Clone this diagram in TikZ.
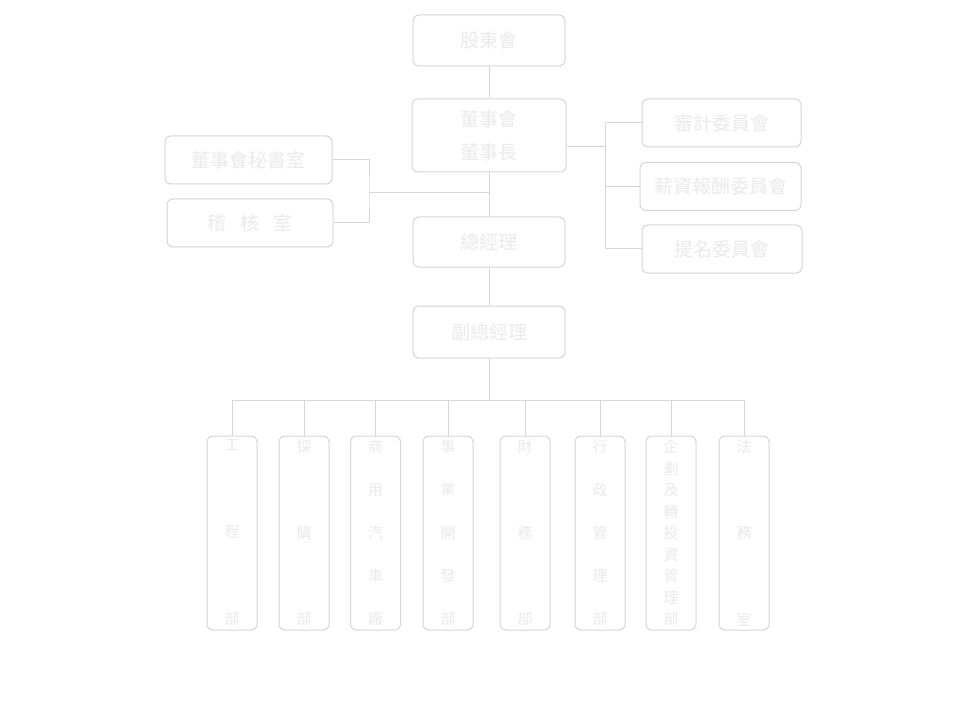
\documentclass[tikz,border=0pt]{standalone}
\usepackage{fontspec}
\newfontfamily\cjk{Noto Sans CJK TC}
\usetikzlibrary{positioning}
\definecolor{orgLine}{RGB}{214,214,214}
\definecolor{orgText}{RGB}{234,234,234}
% stack characters evenly down a column box
\newcommand{\vchars}[1]{\vbox to 185pt{\foreach \ch [count=\k] in #1 {\ifnum\k>1 \vfill\fi\hbox{\ch}}}}

\begin{document}
\begin{tikzpicture}[x=1pt, y=-1pt,
  every node/.style={text=orgText},
  box/.style={draw=orgLine, line width=1pt, rounded corners=6pt, inner sep=0pt, font=\cjk\fontsize{19}{33}\selectfont},
  colbox/.style={draw=orgLine, line width=1pt, rounded corners=6pt, minimum width=50pt, minimum height=194pt, inner sep=0pt, font=\cjk\fontsize{15}{18}\selectfont},
  link/.style={draw=orgLine, line width=1pt}]
  \useasboundingbox[fill=white] (0,0) rectangle (979,719);
  % Top levels
  \node[box, minimum width=152pt, minimum height=51pt] (agm) at (489,40.5) {股東會};
  \node[box, minimum width=154pt, minimum height=73pt, align=center] (board) at (489,135.5) {董事會\\董事長};
  \node[box, minimum width=152pt, minimum height=50pt] (gm) at (489,242) {總經理};
  \node[box, minimum width=152pt, minimum height=52pt] (vgm) at (489,332) {副總經理};
  % Staff units
  \node[box, minimum width=167pt, minimum height=48pt] (secr) at (248.5,160) {董事會秘書室};
  \node[box, minimum width=166pt, minimum height=48pt] (audit) at (250,223) {稽\hspace{14pt}核\hspace{14pt}室};
  % Committees
  \node[box, minimum width=159pt, minimum height=48pt] (auditcom) at (721.5,123) {審計委員會};
  \node[box, minimum width=161pt, minimum height=48pt] (paycom) at (720.5,186.5) {薪資報酬委員會};
  \node[box, minimum width=160pt, minimum height=48pt] (nomcom) at (722,249) {提名委員會};
  % Departments
  \foreach \x/\name/\txt in {232/eng/{工,程,部}, 304/purch/{採,購,部}, 375.5/plant/{商,用,汽,車,廠},
      448/bizdev/{事,業,開,發,部}, 525/fin/{財,務,部}, 600/admin/{行,政,管,理,部},
      671/invest/{企,劃,及,轉,投,資,管,理,部}, 744/law/{法,務,室}}
    \node[colbox] (\name) at (\x,533) {\vchars{\txt}};
  % Links
  \draw[link] (agm) -- (board);
  \draw[link] (board) -- (gm);
  \draw[link] (gm) -- (vgm);
  \coordinate (lbr) at (369,192.5);
  \draw[link] (secr.east) -| (lbr) |- (audit.east);
  \draw[link] (lbr) -- (lbr -| gm);
  \coordinate (rbr) at (605,147);
  \draw[link] (board.east |- rbr) -- (rbr);
  \draw[link] (auditcom.west) -| (nomcom.west -| rbr) -- (nomcom.west);
  \draw[link] (paycom.west) -- (paycom.west -| rbr);
  \coordinate (bus) at (489,400);
  \draw[link] (vgm) -- (bus);
  \draw[link] (eng |- bus) -- (law |- bus);
  \foreach \name in {eng,purch,plant,bizdev,fin,admin,invest,law}
    \draw[link] (\name |- bus) -- (\name.north);
\end{tikzpicture}
\end{document}
